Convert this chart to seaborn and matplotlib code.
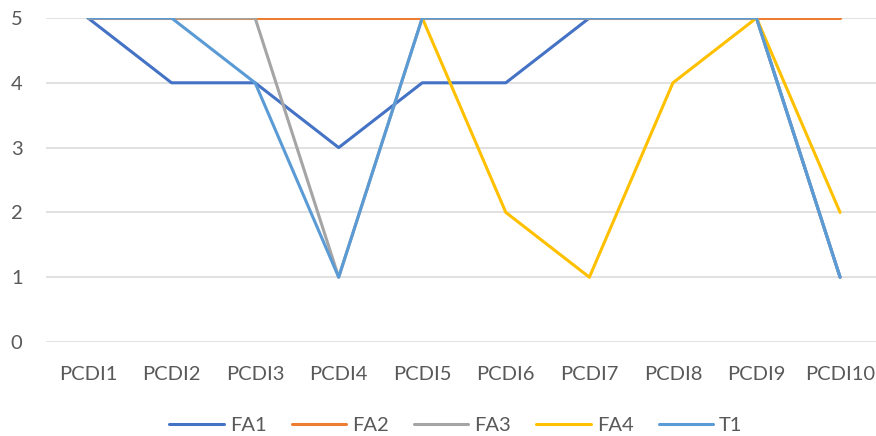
import numpy as np
import pandas as pd
import matplotlib
matplotlib.use('Agg')
import matplotlib.pyplot as plt
import seaborn as sns

# data
categories = ['PCDI1', 'PCDI2', 'PCDI3', 'PCDI4', 'PCDI5',
              'PCDI6', 'PCDI7', 'PCDI8', 'PCDI9', 'PCDI10']
fa1 = [5, 4, 4, 3, 4, 4, 5, 5, 5, 1]
fa2 = [5, 5, 5, 5, 5, 5, 5, 5, 5, 5]
fa3 = [5, 5, 5, 1, 5, 5, 5, 5, 5, 1]
fa4 = [np.nan, np.nan, np.nan, np.nan, 5, 2, 1, 4, 5, 2]
t1 = [5, 5, 4, 1, 5, 5, 5, 5, 5, 1]
series_names = ['FA1', 'FA2', 'FA3', 'FA4', 'T1']
colors = ['#4472C4', '#ED7D31', '#A5A5A5', '#FFC000', '#5B9BD5']

frames = []
for name, vals in zip(series_names, [fa1, fa2, fa3, fa4, t1]):
    frames.append(pd.DataFrame({'PCDI': categories, 'value': vals, 'series': name}))
df = pd.concat(frames, ignore_index=True)

sns.set_style('white')
plt.rcParams['font.family'] = ['Lato', 'DejaVu Sans']
text_color = '#595959'

fig = plt.figure(figsize=(8.76, 4.36), dpi=100)
ax = fig.add_axes([46.2 / 876, 1 - 342 / 436, 1 - 46.2 / 876, (342 - 18) / 436])

sns.lineplot(data=df, x='PCDI', y='value', hue='series', hue_order=series_names,
             palette=colors, linewidth=2.2, sort=False, ax=ax, legend=False)

ax.set_xlim(-0.5, 9.43)
ax.set_ylim(0, 5)
ax.set_yticks(range(0, 6))
ax.grid(axis='y', color='#D9D9D9', linewidth=1.1)
ax.set_axisbelow(True)
for s in ax.spines.values():
    s.set_visible(False)
ax.set_xlabel('')
ax.set_ylabel('')
ax.tick_params(axis='x', length=0, pad=17, labelsize=14.5, labelcolor=text_color)
ax.tick_params(axis='y', length=0, pad=17, labelsize=14.5, labelcolor=text_color)

handles = [plt.Line2D([], [], color=c, linewidth=2.2) for c in colors]
fig.legend(handles, series_names, loc='center', bbox_to_anchor=(456 / 876, 1 - 425 / 436),
           ncol=5, frameon=False, fontsize=14.5, labelcolor=text_color,
           handlelength=2.7, columnspacing=1.25, handletextpad=0.3)

fig.savefig('out.png', dpi=100)
